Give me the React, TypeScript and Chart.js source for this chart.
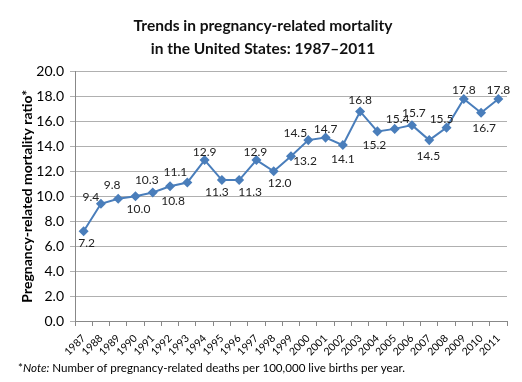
import React, { useEffect, useRef } from "react";
import { Chart, registerables } from "chart.js";

Chart.register(...registerables);

const years = ["1987","1988","1989","1990","1991","1992","1993","1994","1995","1996","1997","1998","1999","2000","2001","2002","2003","2004","2005","2006","2007","2008","2009","2010","2011"];
const ratios = [7.2,9.4,9.8,10.0,10.3,10.8,11.1,12.9,11.3,11.3,12.9,12.0,13.2,14.5,14.7,14.1,16.8,15.2,15.4,15.7,14.5,15.5,17.8,16.7,17.8];
const titleLines = ["Trends in pregnancy-related mortality", "in the United States: 1987\u20132011"];
const yTitle = "Pregnancy-related mortality ratio*";
const noteText = " Number of pregnancy-related deaths per 100,000 live births per year.";

// Data-label placement (pixel offsets from each marker), as in the original layout
const labelDx = [3,-10,-6,3,-6,3,-12,0,-5,11,-1,6,14,-13,0,0,0,-3,3,2,-1,-5,0,3,0];
const labelDy = [12,-7,-14,13,-12,15,-10,-8,12,12,-8,12,5,-7,-8,14,-11,14,-10,-12,16,-9,-9,15,-9];

const FONT = "Lato, 'Open Sans', sans-serif";

const labelPlugin = {
  id: "pointLabels",
  afterDatasetsDraw(chart: any) {
    const ctx = chart.ctx;
    const meta = chart.getDatasetMeta(0);
    ctx.save();
    ctx.font = `12px ${FONT}`;
    ctx.fillStyle = "#222";
    ctx.textAlign = "center";
    ctx.textBaseline = "middle";
    meta.data.forEach((pt: any, i: number) => {
      ctx.fillText(ratios[i].toFixed(1), pt.x + labelDx[i], pt.y + labelDy[i]);
    });
    ctx.restore();
  },
};

const notePlugin = {
  id: "note",
  afterDraw(chart: any) {
    const ctx = chart.ctx;
    ctx.save();
    ctx.fillStyle = "#000";
    ctx.textBaseline = "middle";
    ctx.textAlign = "left";
    let x = 18;
    const y = 368;
    const size = 11.6;
    ctx.font = `${size}px ${FONT}`;
    ctx.fillText("*", x, y);
    x += ctx.measureText("*").width;
    ctx.font = `italic ${size}px ${FONT}`;
    ctx.fillText("Note:", x, y);
    x += ctx.measureText("Note:").width;
    ctx.font = `${size}px ${FONT}`;
    ctx.fillText(noteText, x, y);
    ctx.restore();
  },
};

export default function App() {
  const ref = useRef<HTMLCanvasElement>(null);
  useEffect(() => {
    document.body.style.margin = "0";
    const chart = new Chart(ref.current!, {
      type: "line",
      data: {
        labels: years,
        datasets: [
          {
            data: ratios,
            borderColor: "#4a7ebb",
            backgroundColor: "#4a7ebb",
            borderWidth: 2,
            pointStyle: "rectRot",
            pointRadius: 3.6,
            pointHoverRadius: 3.6,
            tension: 0,
          },
        ],
      },
      options: {
        responsive: false,
        animation: false,
        layout: { padding: { left: 19, right: 15, top: 0, bottom: 26 } },
        plugins: {
          legend: { display: false },
          tooltip: { enabled: false },
          title: {
            display: true,
            text: titleLines,
            color: "#111",
            font: { family: FONT, size: 15.5, weight: "bold", lineHeight: 1.5 },
            padding: { top: 14, bottom: 11 },
          },
        },
        scales: {
          x: {
            offset: true,
            grid: {
              offset: true,
              drawOnChartArea: false,
              drawTicks: true,
              tickLength: 5,
              color: "#888",
            },
            border: { color: "#888", width: 1 },
            ticks: {
              color: "#000",
              font: { family: FONT, size: 10.5 },
              maxRotation: 45,
              minRotation: 45,
              autoSkip: false,
              padding: 6,
            },
            afterFit(s: any) {
              s.height = 35;
            },
          },
          y: {
            min: 0,
            max: 20,
            ticks: {
              stepSize: 2,
              color: "#000",
              font: { family: FONT, size: 14 },
              padding: 6,
              callback: (v: any) => Number(v).toFixed(1),
            },
            grid: { color: "#b0b0b0", tickLength: 5 },
            border: { color: "#888", width: 1 },
            title: {
              display: true,
              text: yTitle,
              color: "#000",
              font: { family: FONT, size: 14, weight: "bold" },
              padding: { top: 0, bottom: 2 },
            },
            afterFit(s: any) {
              s.width = 56;
            },
          },
        },
      },
      plugins: [labelPlugin, notePlugin],
    });
    return () => chart.destroy();
  }, []);
  return <canvas ref={ref} width={522} height={382} />;
}
